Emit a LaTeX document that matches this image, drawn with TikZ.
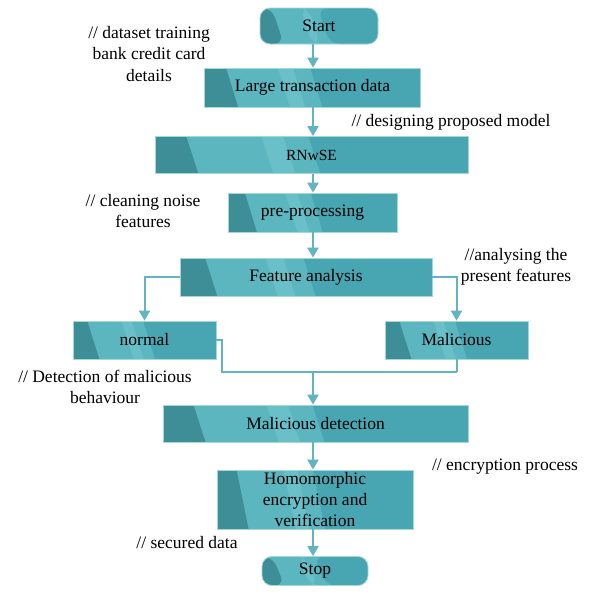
\documentclass[tikz,border=0pt]{standalone}
\usepackage{fontspec}
\setmainfont{Liberation Serif}
\usetikzlibrary{calc,arrows.meta}

\definecolor{boxdark}{HTML}{3D8E96}
\definecolor{boxlight}{HTML}{5CB6C0}
\definecolor{boxstripe}{HTML}{6AC0C9}
\definecolor{boxmid}{HTML}{48A6B3}
\definecolor{boxedge}{HTML}{A4D6DC}
\definecolor{linec}{HTML}{62B4C0}

\tikzset{
  shaded/.style={
    fill=boxlight, draw=boxedge, line width=0.8pt, inner sep=0pt,
    align=center, font=\rmfamily\fontsize{17.5}{21}\selectfont,
    path picture={
      \coordinate (pw) at (path picture bounding box.north west);
      \coordinate (pe) at (path picture bounding box.north east);
      \coordinate (qw) at (path picture bounding box.south west);
      \coordinate (qe) at (path picture bounding box.south east);
      \fill[boxdark] (pw) -- ($(pw)!0.10!(pe)$) -- ($(qw)!0.10!(qe)+(12pt,0)$) -- (qw) -- cycle;
      \fill[boxstripe] ($(pw)!0.34!(pe)$) -- ($(pw)!0.41!(pe)$) -- ($(qw)!0.41!(qe)+(12pt,0)$) -- ($(qw)!0.34!(qe)+(12pt,0)$) -- cycle;
      \fill[boxmid] ($(pw)!0.49!(pe)$) -- (pe) -- (qe) -- ($(qw)!0.49!(qe)+(12pt,0)$) -- cycle;
    }},
  stepbox/.style={shaded, rectangle},
  termbox/.style={shaded, rectangle, rounded corners=10pt},
  conn/.style={draw=linec, line width=2pt},
  arrowconn/.style={conn, -{Triangle[width=11pt,length=10pt]}},
  note/.style={align=center, font=\rmfamily\fontsize{17.5}{21.5}\selectfont, inner sep=0pt}
}

\begin{document}
\begin{tikzpicture}[x=1pt,y=-1pt]
\useasboundingbox[fill=white] (0,0) rectangle (590,597);

% flow boxes
\node[termbox, minimum width=118pt, minimum height=36pt] (start) at (319,26) {Start};
\node[stepbox, minimum width=216pt, minimum height=39pt] (large) at (312.5,87.5) {Large transaction data};
\node[stepbox, minimum width=313pt, minimum height=37pt, font=\rmfamily\fontsize{15.5}{18}\selectfont] (rnwse) at (311.5,155) {RNwSE};
\node[stepbox, minimum width=169pt, minimum height=39pt] (pre) at (312.5,212.5) {pre-processing};
\node[stepbox, minimum width=252pt, minimum height=38pt] (feat) at (306,277) {Feature analysis};
\node[stepbox, minimum width=143pt, minimum height=38pt] (normal) at (144.5,340) {normal};
\node[stepbox, minimum width=143pt, minimum height=38pt] (mal) at (456.5,340) {Malicious};
\node[stepbox, minimum width=305pt, minimum height=37pt] (det) at (315.5,423.5) {Malicious detection};
\node[stepbox, minimum width=196pt, minimum height=59pt] (homo) at (315,499.5) {Homomorphic\\encryption and\\verification};
\node[termbox, minimum width=106pt, minimum height=29pt] (stop) at (315,571) {Stop};

% main spine
\coordinate (spine) at (313,0);
\draw[arrowconn] (start.south -| spine) -- (large.north -| spine);
\draw[arrowconn] (large.south -| spine) -- (rnwse.north -| spine);
\draw[arrowconn] (rnwse.south -| spine) -- (pre.north -| spine);
\draw[arrowconn] (pre.south -| spine) -- (feat.north -| spine);

% branches
\draw[arrowconn] (feat.west) -| (normal.north);
\draw[arrowconn] (feat.east) -| (mal.north);

% merge
\coordinate (jl) at (222,372);
\coordinate (jr) at (456.5,372);
\coordinate (merge) at (313,372);
\draw[conn] (normal.east) -| (jl) -- (jr);
\draw[conn] (mal.south) -- (jr);
\draw[arrowconn] (merge) -- (det.north -| merge);
\draw[arrowconn] (det.south -| spine) -- (homo.north -| spine);
\draw[arrowconn] (homo.south -| spine) -- (stop.north -| spine);

% comments
\node[note] (n1) at (149,54) {// dataset training\\bank credit card\\details};
\node[note] (n2) at (451,122) {// designing proposed model};
\node[note] (n3) at (143,211) {// cleaning noise\\features};
\node[note] (n4) at (516,267) {//analysing the\\present features};
\node[note] (n5) at (105,387) {// Detection of malicious\\behaviour};
\node[note] (n6) at (505,467) {// encryption process};
\node[note] (n7) at (187,543) {// secured data};
\end{tikzpicture}
\end{document}
